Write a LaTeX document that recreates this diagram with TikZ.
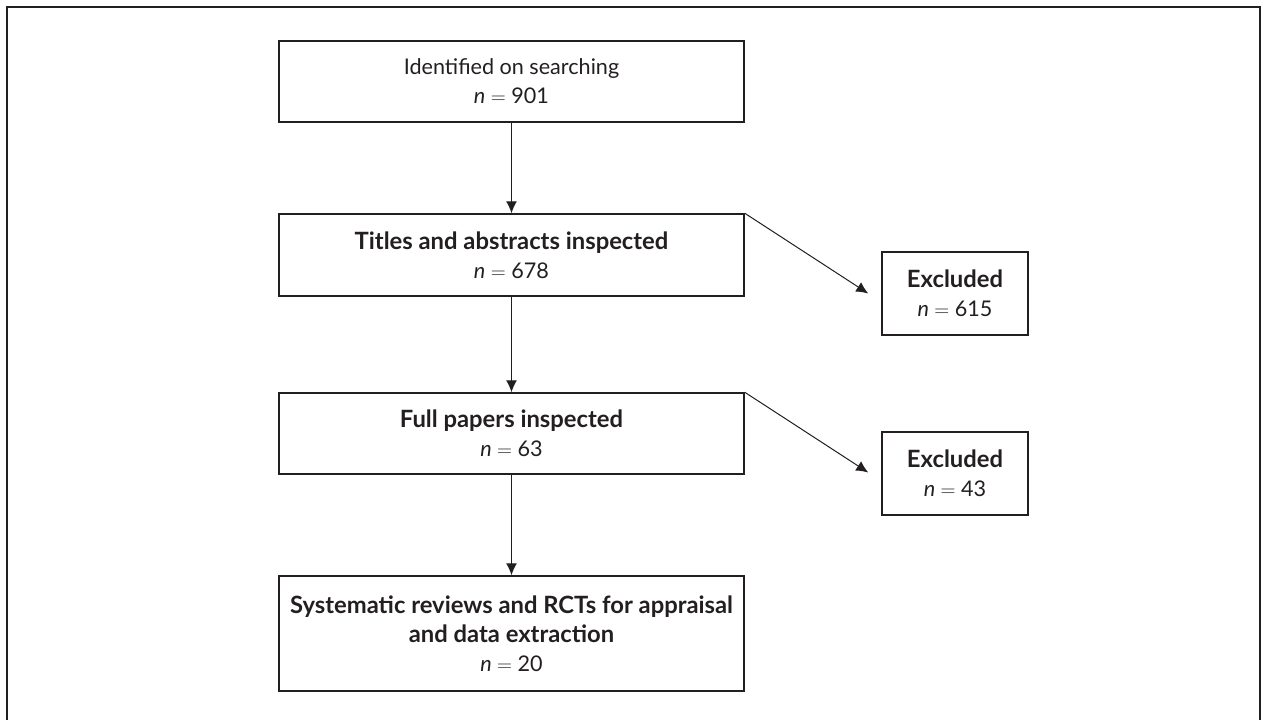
\documentclass[tikz,border=0pt]{standalone}
\usepackage{fontspec}
\setmainfont{Lato}
\usetikzlibrary{arrows.meta,calc}
\definecolor{ink}{HTML}{231F20}
\newcommand{\nval}[1]{{\itshape n} \(=\) #1}
\newcommand{\bt}[1]{{\fontsize{23.8}{28.5}\selectfont\bfseries #1}}
\begin{document}
\begin{tikzpicture}[x=1pt,y=-1pt,
  box/.style={draw=ink,line width=1.5pt,rectangle,align=center,text=ink,inner sep=0pt,
    font=\fontsize{21.6}{29}\selectfont},
  mainbox/.style={box,minimum width=465pt},
  exbox/.style={box,minimum width=146pt,minimum height=83pt},
  arr/.style={draw=ink,line width=1.2pt,-{Latex[length=12pt,width=11pt]}}]
\useasboundingbox (0,0) rectangle (1261,720);
\draw[ink,line width=2pt] (7,721) -- (7,7) -- (1260,7) -- (1260,721);
\node[mainbox,minimum height=81pt] (b1) at (511.5,81.5) {Identified on searching\\\nval{901}};
\node[mainbox,minimum height=82pt] (b2) at (511.5,255) {\bt{Titles and abstracts inspected}\\\nval{678}};
\node[mainbox,minimum height=81pt] (b3) at (511.5,433.5) {\bt{Full papers inspected}\\\nval{63}};
\node[mainbox,minimum height=115pt] (b4) at (511.5,633.5) {\bt{Systematic reviews and RCTs for appraisal}\\\bt{and data extraction}\\\nval{20}};
\node[exbox] (e1) at (955,293.5) {\bt{Excluded}\\\nval{615}};
\node[exbox] (e2) at (955,473.5) {\bt{Excluded}\\\nval{43}};
\draw[arr] (b1.south) -- (b2.north);
\draw[arr] (b2.south) -- (b3.north);
\draw[arr] (b3.south) -- (b4.north);
\coordinate (t1) at ($(e1.west)+(-13,0)$);
\coordinate (t2) at ($(e2.west)+(-13,-1)$);
\draw[arr,line width=1pt] (b2.north east) -- (t1);
\draw[arr,line width=1pt] (b3.north east) -- (t2);
\end{tikzpicture}
\end{document}
